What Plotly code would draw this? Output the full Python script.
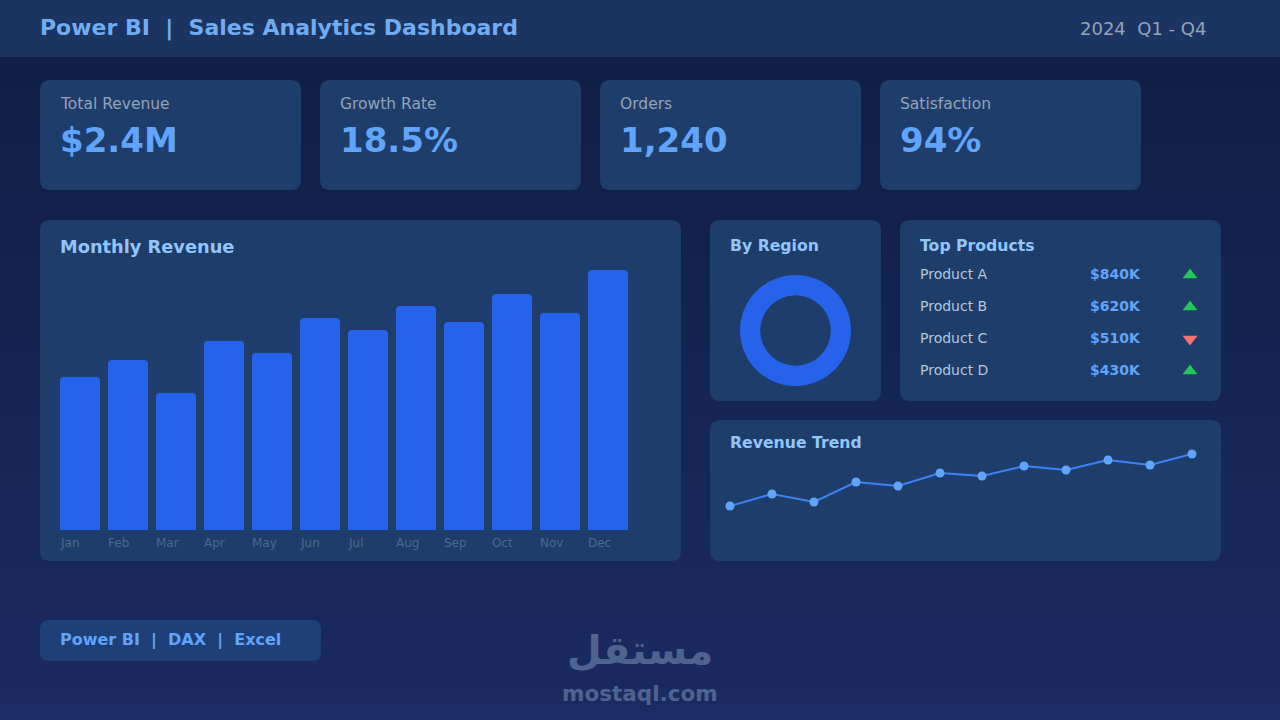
import plotly.graph_objects as go

W, H = 1280, 720
FONT = "DejaVu Sans"

# ---------------- data ----------------
months = ["Jan", "Feb", "Mar", "Apr", "May", "Jun",
          "Jul", "Aug", "Sep", "Oct", "Nov", "Dec"]
monthly_revenue_k = [153, 170, 137, 189, 177, 212, 200, 224, 208, 236, 217, 260]
trend_index = [34, 46, 38, 58, 54, 67, 64, 74, 70, 80, 75, 86]

kpi_labels = ["Total Revenue", "Growth Rate", "Orders", "Satisfaction"]
kpi_values = ["$2.4M", "18.5%", "1,240", "94%"]

products = ["Product A", "Product B", "Product C", "Product D"]
product_revenue_k = [840, 620, 510, 430]
product_direction = ["up", "up", "down", "up"]

region_labels = ["All regions"]
region_values = [100]

tools = ["Power BI", "DAX", "Excel"]
title_text = "Power BI  |  Sales Analytics Dashboard"
period_text = "2024  Q1 - Q4"

# ---------------- colours ----------------
HEADER_BG = "#1b3461"
CARD_BG = "#1f3d6b"
PILL_BG = "#1f3f79"
BAR = "#2563eb"
LINE = "#3b82f6"
DOT = "#60a5fa"
VALUE = "#60a5fa"
CARD_TITLE = "#93c5fd"
MUTED = "#94a3b8"
PRODUCT_TXT = "#b6c6de"
MONTH_TXT = "#4b6790"
UP = "#22c55e"
DOWN = "#f87171"
WATERMARK = "#4e6390"

NB = "\u00a0"


def X(px):
    return px / W


def Y(py):
    return 1 - py / H


def rrect(x0, y0, x1, y1, r, color):
    p = (f"M {X(x0 + r)},{Y(y0)} L {X(x1 - r)},{Y(y0)} "
         f"Q {X(x1)},{Y(y0)} {X(x1)},{Y(y0 + r)} L {X(x1)},{Y(y1 - r)} "
         f"Q {X(x1)},{Y(y1)} {X(x1 - r)},{Y(y1)} L {X(x0 + r)},{Y(y1)} "
         f"Q {X(x0)},{Y(y1)} {X(x0)},{Y(y1 - r)} L {X(x0)},{Y(y0 + r)} "
         f"Q {X(x0)},{Y(y0)} {X(x0 + r)},{Y(y0)} Z")
    return dict(type="path", path=p, xref="paper", yref="paper",
                fillcolor=color, line=dict(width=0), layer="below")


def txt(x, y, s, size, color, bold=False, xanchor="left", family=FONT):
    xs = -1 if xanchor == "left" else 0
    return dict(x=X(x), y=Y(y), xref="paper", yref="paper", text=s.replace(" ", NB),
                showarrow=False, xanchor=xanchor, yanchor="middle", borderpad=0,
                xshift=xs,
                font=dict(family=family, size=size, color=color,
                          weight="bold" if bold else "normal"))


shapes = []
annotations = []

# background gradient
top_c = (15, 31, 69)
bot_c = (27, 43, 99)
N = 40
y_start = 57
for i in range(N):
    t = i / (N - 1)
    c = tuple(int(round(top_c[k] + (bot_c[k] - top_c[k]) * t)) for k in range(3))
    ya = y_start + (H - y_start) * i / N
    yb = y_start + (H - y_start) * (i + 1) / N + 1
    shapes.append(dict(type="rect", xref="paper", yref="paper", x0=0, x1=1,
                       y0=Y(min(yb, H)), y1=Y(ya), fillcolor=f"rgb{c}",
                       line=dict(width=0), layer="below"))

# header
shapes.append(dict(type="rect", xref="paper", yref="paper", x0=0, x1=1,
                   y0=Y(57), y1=1, fillcolor=HEADER_BG, line=dict(width=0), layer="below"))
annotations.append(txt(40, 28, title_text, 22, "#71acf3", bold=True))
annotations.append(txt(1080, 29, period_text, 18, MUTED))

# KPI cards
for i, (lab, val) in enumerate(zip(kpi_labels, kpi_values)):
    x0 = 40 + 280 * i
    shapes.append(rrect(x0, 80, x0 + 261, 190, 10, CARD_BG))
    annotations.append(txt(x0 + 20, 104, lab, 15.5, MUTED))
    annotations.append(txt(x0 + 20, 140, val, 34, VALUE, bold=True))

# cards
shapes.append(rrect(40, 220, 681, 561, 10, CARD_BG))
shapes.append(rrect(710, 220, 881, 401, 10, CARD_BG))
shapes.append(rrect(900, 220, 1221, 401, 10, CARD_BG))
shapes.append(rrect(710, 420, 1221, 561, 10, CARD_BG))

annotations.append(txt(60, 246, "Monthly Revenue", 17.8, CARD_TITLE, bold=True))
annotations.append(txt(730, 245, "By Region", 15.7, CARD_TITLE, bold=True))
annotations.append(txt(920, 245, "Top Products", 15.7, CARD_TITLE, bold=True))
annotations.append(txt(730, 442, "Revenue Trend", 15.7, CARD_TITLE, bold=True))

# month labels (left aligned with each bar)
for m in months:
    annotations.append(dict(x=m, xref="x2", y=Y(543), yref="paper", text=m,
                            showarrow=False, xanchor="left", yanchor="middle",
                            xshift=-21, borderpad=0,
                            font=dict(family=FONT, size=12, color=MONTH_TXT)))

# top products table
row_y = [274 + 32 * i for i in range(len(products))]
for name, rev, yy in zip(products, product_revenue_k, row_y):
    annotations.append(txt(920, yy, name, 14, PRODUCT_TXT))
    annotations.append(txt(1090, yy, f"${rev}K", 14, VALUE, bold=True))

# footer pill
shapes.append(rrect(40, 620, 321, 661, 9, PILL_BG))
annotations.append(txt(60, 640, "  |  ".join(tools), 16, VALUE, bold=True))

# watermark
annotations.append(txt(640, 650, "مستقل", 40, WATERMARK, bold=True, xanchor="center"))
annotations.append(txt(640, 693, "mostaql.com", 21.5, WATERMARK, bold=True, xanchor="center"))

fig = go.Figure()

# bars
fig.add_trace(go.Bar(x=months, y=monthly_revenue_k, xaxis="x2", yaxis="y2",
                     marker=dict(color=BAR, line=dict(width=0)),
                     hoverinfo="skip", showlegend=False))

# trend line
fig.add_trace(go.Scatter(x=list(range(len(trend_index))), y=trend_index,
                         xaxis="x3", yaxis="y3", mode="lines+markers",
                         line=dict(color=LINE, width=2),
                         marker=dict(color=DOT, size=9),
                         cliponaxis=False, hoverinfo="skip", showlegend=False))

# product trend triangles
tri_y = [y + 1 for y in row_y]
fig.add_trace(go.Scatter(
    x=[1190] * len(products), y=tri_y, xaxis="x", yaxis="y", mode="markers",
    marker=dict(symbol=["triangle-up" if d == "up" else "triangle-down" for d in product_direction],
                color=[UP if d == "up" else DOWN for d in product_direction],
                size=13, line=dict(width=0)),
    cliponaxis=False, hoverinfo="skip", showlegend=False))

# donut
fig.add_trace(go.Pie(labels=region_labels, values=region_values, hole=0.636,
                     domain=dict(x=[X(740), X(851)], y=[Y(386), Y(275)]),
                     marker=dict(colors=[BAR], line=dict(width=0)),
                     textinfo="none", hoverinfo="skip", sort=False,
                     showlegend=False))

hidden = dict(visible=False, fixedrange=True, showgrid=False, zeroline=False)

fig.update_layout(
    width=W, height=H, margin=dict(l=0, r=0, t=0, b=0),
    paper_bgcolor="#12224c", plot_bgcolor="rgba(0,0,0,0)",
    xaxis=dict(domain=[0, 1], range=[0, W], **hidden),
    yaxis=dict(domain=[0, 1], range=[H, 0], **hidden),
    xaxis2=dict(domain=[X(56), X(632)], range=[-0.5, 11.5], anchor="y2", **hidden),
    yaxis2=dict(domain=[Y(530), Y(270)], range=[0, 260], anchor="x2", **hidden),
    xaxis3=dict(domain=[X(730), X(1192)], range=[0, 11], anchor="y3", **hidden),
    yaxis3=dict(domain=[Y(540), Y(440)], range=[0, 100], anchor="x3", **hidden),
    bargap=8 / 48, barcornerradius=4,
    shapes=shapes, annotations=annotations,
    showlegend=False,
)

fig.write_html("out.html", config=dict(displayModeBar=False))
